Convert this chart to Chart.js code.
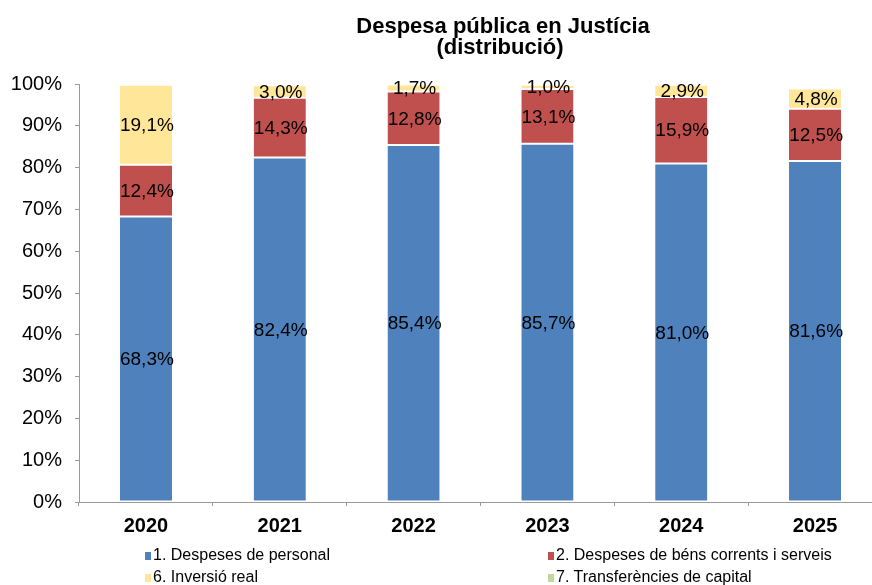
<!DOCTYPE html>
<html>
<head>
<meta charset="utf-8">
<script src="https://cdn.jsdelivr.net/npm/chart.js@4"></script>
<style>
  html, body { margin: 0; padding: 0; background: #fff; overflow: hidden; }
  #wrap { position: relative; width: 882px; height: 585px; }
  .leg { position: absolute; font: 16px "Liberation Sans", Arial, sans-serif; color: #000; white-space: nowrap; line-height: 18px; }
  .leg i { display: inline-block; width: 6px; height: 8px; margin-right: 2px; vertical-align: 0px; }
</style>
</head>
<body>
<div id="wrap">
  <canvas id="chart" width="882" height="585"></canvas>
  <div id="legend"></div>
</div>
<script>
const YEARS = ['2020', '2021', '2022', '2023', '2024', '2025'];
const PERSONAL    = [68.3, 82.4, 85.4, 85.7, 81.0, 81.6];
const BENS        = [12.4, 14.3, 12.8, 13.1, 15.9, 12.5];
const INVERSIO    = [19.1, 3.0, 1.7, 1.0, 2.9, 4.8];
const TRANSFER    = [0, 0, 0, 0, 0, 0];
const SERIES_NAMES = ['1. Despeses de personal', '2. Despeses de béns corrents i serveis', '6. Inversió real', '7. Transferències de capital'];
const COLORS = ['#4F81BD', '#C0504D', '#FFE699', '#C3D69B'];
const Y_TICKS = [0, 10, 20, 30, 40, 50, 60, 70, 80, 90, 100];
const TITLE = ['Despesa pública en Justícia', '(distribució)'];

const FONT = '"Liberation Sans", Arial, sans-serif';
const fmt = v => v.toFixed(1).replace('.', ',') + '%';

// labels in the middle of each segment
const barLabels = {
  id: 'barLabels',
  afterDatasetsDraw(chart) {
    const ctx = chart.ctx;
    ctx.save();
    ctx.font = '19px ' + FONT;
    ctx.fillStyle = '#000';
    ctx.textAlign = 'center';
    ctx.textBaseline = 'middle';
    chart.data.datasets.forEach((ds, i) => {
      if (ds.noLabels) return;
      chart.getDatasetMeta(i).data.forEach((el, j) => {
        const v = ds.data[j];
        if (!v) return;
        ctx.fillText(fmt(v), el.x + 1, (el.y + el.base) / 2 + 1);
      });
    });
    ctx.restore();
  }
};

const titlePlugin = {
  id: 'titleText',
  afterDraw(chart) {
    const ctx = chart.ctx;
    ctx.save();
    ctx.font = 'bold 22px ' + FONT;
    ctx.fillStyle = '#000';
    ctx.textAlign = 'center';
    ctx.textBaseline = 'middle';
    ctx.fillText(TITLE[0], 503, 27);
    ctx.fillText(TITLE[1], 500, 48);
    ctx.restore();
  }
};

const sets = [PERSONAL, BENS, INVERSIO, TRANSFER].map((d, i) => ({
  label: SERIES_NAMES[i],
  data: d,
  backgroundColor: COLORS[i],
  borderColor: '#fff',
  borderWidth: { top: 1, bottom: 1, left: 0, right: 0 },
  borderSkipped: false,
  barPercentage: 0.39,
  categoryPercentage: 1,
  noLabels: i === 3
}));

new Chart(document.getElementById('chart'), {
  type: 'bar',
  data: { labels: YEARS, datasets: sets },
  options: {
    responsive: false,
    animation: false,
    layout: { padding: { top: 84, right: 0, left: 0, bottom: 0 } },
    plugins: { legend: { display: false }, tooltip: { enabled: false } },
    scales: {
      x: {
        stacked: true,
        grid: { display: true, drawOnChartArea: false, drawTicks: true, tickLength: 4, offset: true, color: '#999' },
        border: { color: '#999' },
        ticks: { color: '#000', font: { family: FONT, size: 20, weight: 'bold' }, padding: 8 },
        afterFit: s => { s.height = 83; }
      },
      y: {
        stacked: true,
        min: 0, max: 100,
        afterBuildTicks: s => { s.ticks = Y_TICKS.map(v => ({ value: v })); },
        grid: { display: true, drawOnChartArea: false, drawTicks: true, tickLength: 4, color: '#999' },
        border: { color: '#999' },
        ticks: { color: '#000', font: { family: FONT, size: 20 }, padding: 13, callback: v => v + '%' },
        afterFit: s => { s.width = 79; }
      }
    }
  },
  plugins: [barLabels, titlePlugin]
});

// legend, two columns
const LEG_POS = [[145, 546], [548, 546], [145, 568], [548, 568]];
document.getElementById('legend').innerHTML = SERIES_NAMES.map((n, i) =>
  `<div class="leg" style="left:${LEG_POS[i][0]}px;top:${LEG_POS[i][1]}px"><i style="background:${COLORS[i]}"></i>${n}</div>`
).join('');
</script>
</body>
</html>
